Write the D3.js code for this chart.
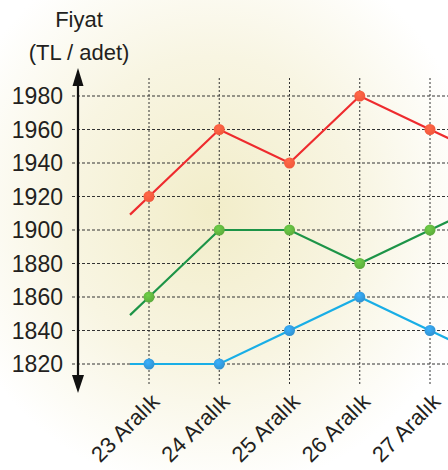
<!DOCTYPE html>
<html>
<head>
<meta charset="utf-8">
<script src="https://cdn.jsdelivr.net/npm/d3@7"></script>
<style>
  body { margin: 0; background: #fff; }
  svg { display: block; font-family: "Liberation Sans", Arial, sans-serif; }
</style>
</head>
<body>
<svg id="chart"></svg>
<script>
// chart values
var days = ["23 Aralık", "24 Aralık", "25 Aralık", "26 Aralık", "27 Aralık"]
var red = [1920, 1960, 1940, 1980, 1960]
var green = [1860, 1900, 1900, 1880, 1900]
var blue = [1820, 1820, 1840, 1860, 1840]
var yTicks = [1820, 1840, 1860, 1880, 1900, 1920, 1940, 1960, 1980]

var width = 448, height = 470

var svg = d3.select("#chart").attr("width", width).attr("height", height)

// soft yellow background glow
var defs = svg.append("defs")
var glow = defs.append("radialGradient").attr("id", "glow")
    .attr("cx", 0.47).attr("cy", 0.45).attr("r", 0.6)
glow.append("stop").attr("offset", "0%").attr("stop-color", "#f2edc9")
glow.append("stop").attr("offset", "55%").attr("stop-color", "#f8f5e2")
glow.append("stop").attr("offset", "100%").attr("stop-color", "#ffffff")
svg.append("rect").attr("width", width).attr("height", height).attr("fill", "url(#glow)")

var x = d3.scalePoint().domain(days).range([149, 430])
var y = d3.scaleLinear().domain([1820, 1980]).range([364, 96])

// grid
svg.append("g").selectAll("line").data(yTicks).enter().append("line")
    .attr("x1", 72).attr("x2", width)
    .attr("y1", d => y(d)).attr("y2", d => y(d))
    .attr("stroke", "#333").attr("stroke-width", 1).attr("stroke-dasharray", "3,2")
svg.append("g").selectAll("line").data(days).enter().append("line")
    .attr("x1", d => x(d)).attr("x2", d => x(d))
    .attr("y1", 78).attr("y2", 386)
    .attr("stroke", "#333").attr("stroke-width", 1).attr("stroke-dasharray", "2,2")

// y axis with arrows at both ends
svg.append("line").attr("x1", 78).attr("x2", 78).attr("y1", 84).attr("y2", 378)
    .attr("stroke", "#111").attr("stroke-width", 2.2)
svg.append("path").attr("d", "M78,68 L72.5,86 L83.5,86 Z").attr("fill", "#111")
svg.append("path").attr("d", "M78,393 L72,375 L84,375 Z").attr("fill", "#111")

svg.append("g").selectAll("text").data(yTicks).enter().append("text")
    .attr("x", 63).attr("y", d => y(d)).attr("dy", "0.36em")
    .attr("text-anchor", "end").attr("font-size", 23).attr("fill", "#231f20")
    .text(d => d)

svg.append("text").attr("x", 79).attr("y", 27).attr("text-anchor", "middle")
    .attr("font-size", 22).attr("fill", "#231f20").text("Fiyat")
svg.append("text").attr("x", 79).attr("y", 60).attr("text-anchor", "middle")
    .attr("font-size", 22).attr("fill", "#231f20").text("(TL / adet)")

// rotated day labels
svg.append("g").selectAll("text").data(days).enter().append("text")
    .attr("transform", d => "translate(" + (x(d) + 1) + ",392) rotate(-45)")
    .attr("text-anchor", "end").attr("dy", "0.7em")
    .attr("font-size", 22).attr("fill", "#231f20")
    .text(d => d)

// series
var series = [
    {values: red, line: "#ee2b2e", dot: "#f0553a", id: "gr"},
    {values: green, line: "#1d9447", dot: "#5aa83a", id: "gg"},
    {values: blue, line: "#19aee6", dot: "#2f8fcd", id: "gb"}
]

series.forEach(s => {
    var g = defs.append("radialGradient").attr("id", s.id).attr("cx", 0.4).attr("cy", 0.35).attr("r", 0.7)
    g.append("stop").attr("offset", "0%").attr("stop-color", d3.color(s.dot).brighter(0.6))
    g.append("stop").attr("offset", "100%").attr("stop-color", s.dot)

    var pts = s.values.map((v, i) => [x(days[i]), y(v)])
    // lines run a bit past the first and last day, keeping the same slope
    var n = pts.length
    var a = pts[0], b = pts[1], c = pts[n - 2], e = pts[n - 1]
    var leftX = 130, rightX = width + 5
    var start = [leftX, a[1] + (b[1] - a[1]) * (leftX - a[0]) / (b[0] - a[0])]
    var end = [rightX, e[1] + (e[1] - c[1]) * (rightX - e[0]) / (e[0] - c[0])]

    svg.append("path")
        .attr("d", d3.line()([start].concat(pts, [end])))
        .attr("fill", "none").attr("stroke", s.line).attr("stroke-width", 2.2)

    svg.append("g").selectAll("circle").data(pts).enter().append("circle")
        .attr("cx", d => d[0]).attr("cy", d => d[1]).attr("r", 5.5)
        .attr("fill", "url(#" + s.id + ")")
})
</script>
</body>
</html>
